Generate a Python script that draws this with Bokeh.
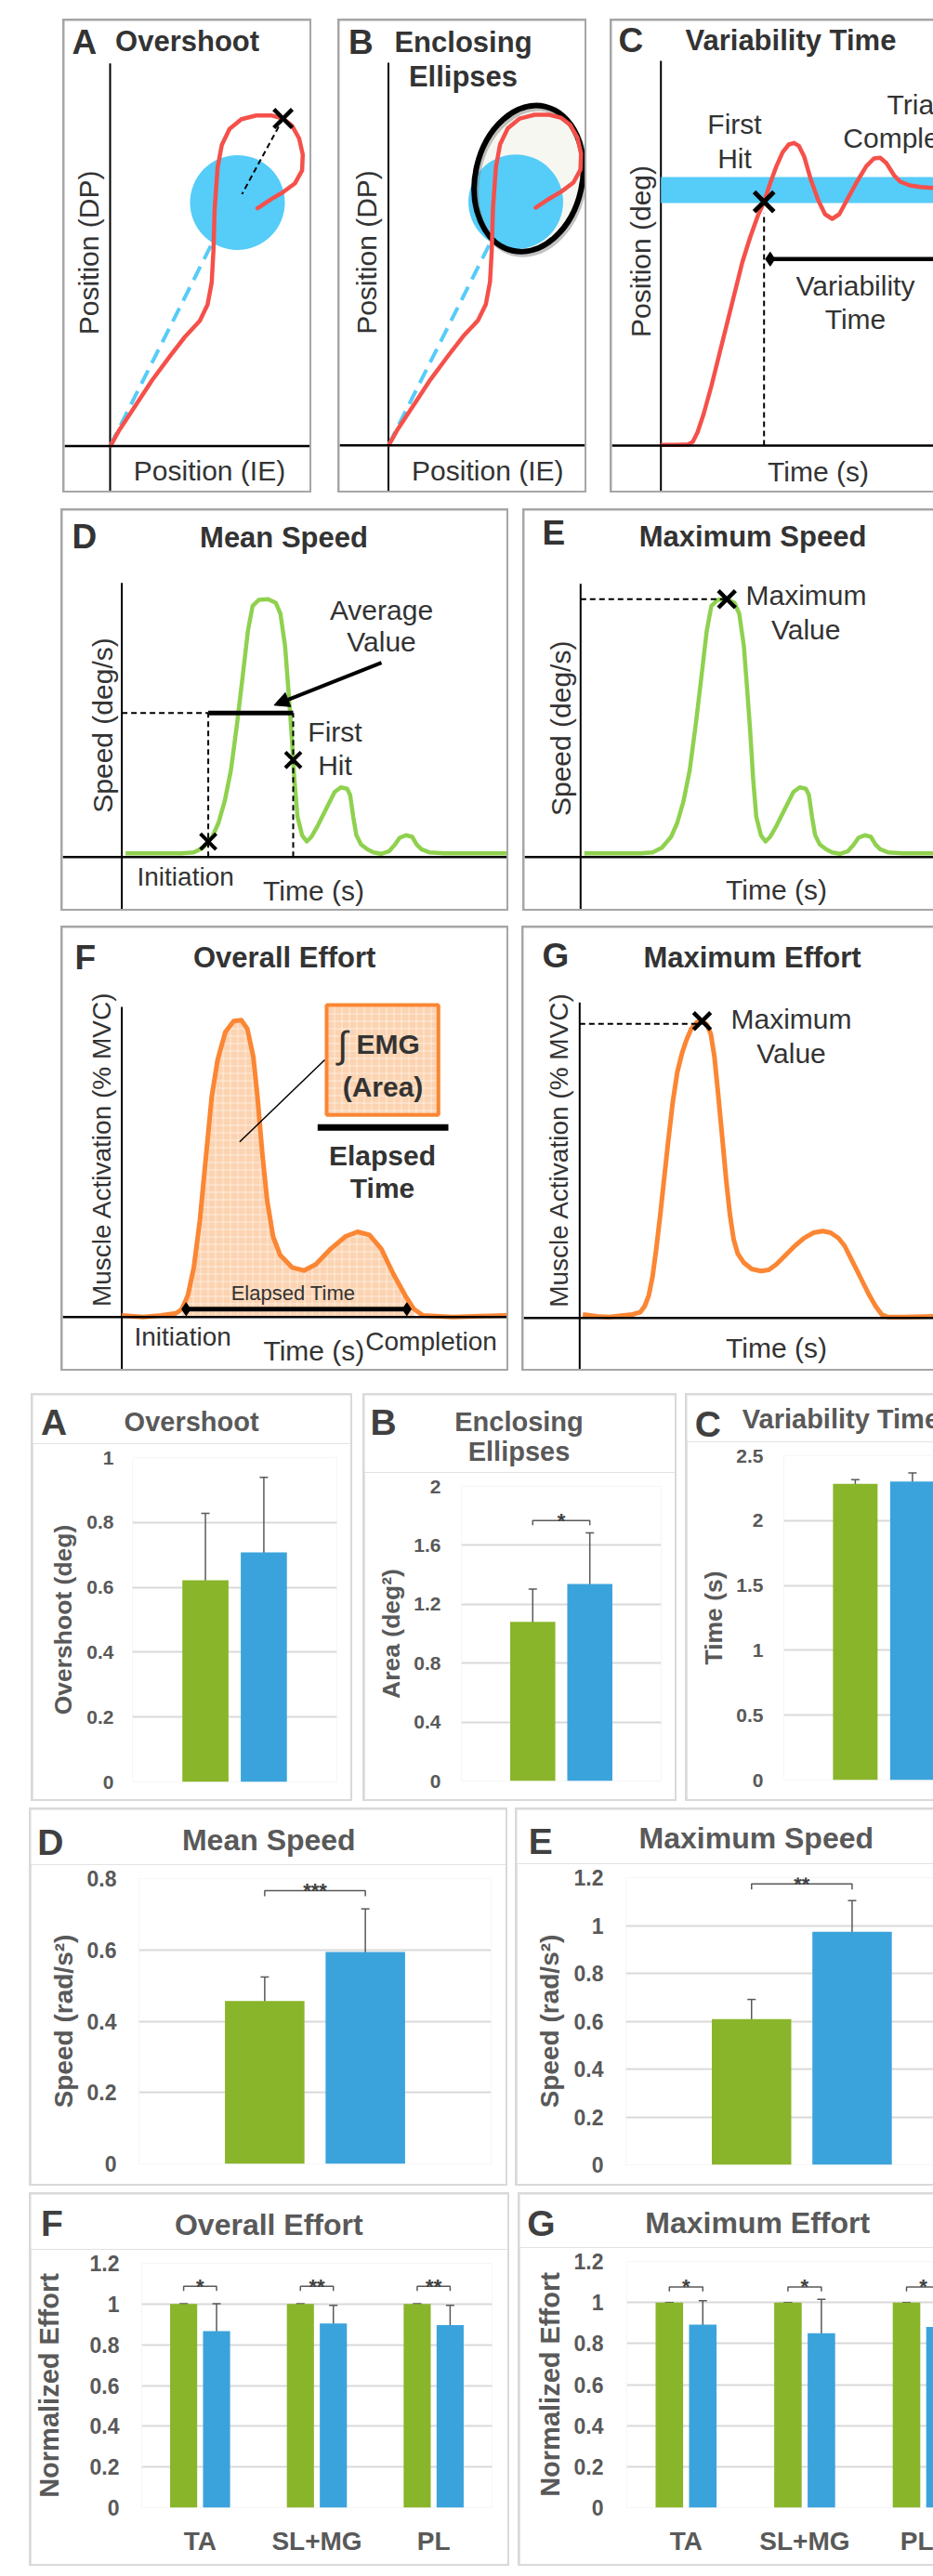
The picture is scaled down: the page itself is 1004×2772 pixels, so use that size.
import math
import numpy as np
from bokeh.plotting import figure
from bokeh.models import (Range1d, Span, Label, Whisker, TeeHead, ColumnDataSource,
                          FixedTicker, Arrow, NormalHead, Spacer)
from bokeh.layouts import column, row
from bokeh.embed import file_html
from bokeh.resources import INLINE

# ====================== DATA ======================
# --- bar charts (two conditions: green, blue) ---
conditions = ["green", "blue"]
overshoot = [0.622, 0.708]
overshoot_err = [0.206, 0.231]
ellipse_area = [1.08, 1.337]
ellipse_area_err = [0.223, 0.348]
variability_time = [2.283, 2.302]
variability_time_err = [0.033, 0.065]
mean_speed = [0.457, 0.594]
mean_speed_err = [0.067, 0.121]
max_speed = [0.609, 0.974]
max_speed_err = [0.082, 0.130]
muscles = ["TA", "SL+MG", "PL"]
overall_green = [1.0, 1.0, 1.0]
overall_green_err = [0.0, 0.0, 0.0]
overall_blue = [0.867, 0.905, 0.897]
overall_blue_err = [0.135, 0.089, 0.097]
maxeff_green = [1.0, 1.0, 1.0]
maxeff_green_err = [0.0, 0.0, 0.0]
maxeff_blue = [0.892, 0.850, 0.881]
maxeff_blue_err = [0.117, 0.166, 0.120]
sig_area = "*"
sig_mean_speed = "***"
sig_max_speed = "**"
sig_overall = ["*", "**", "**"]
sig_maxeff = ["*", "*", "*"]

ticks_overshoot = [0, 0.2, 0.4, 0.6, 0.8, 1]
labels_overshoot = ["0", "0.2", "0.4", "0.6", "0.8", "1"]
ticks_area = [0, 0.4, 0.8, 1.2, 1.6, 2]
labels_area = ["0", "0.4", "0.8", "1.2", "1.6", "2"]
ticks_time = [0, 0.5, 1, 1.5, 2, 2.5]
labels_time = ["0", "0.5", "1", "1.5", "2", "2.5"]
ticks_mspeed = [0, 0.2, 0.4, 0.6, 0.8]
labels_mspeed = ["0", "0.2", "0.4", "0.6", "0.8"]
ticks_12 = [0, 0.2, 0.4, 0.6, 0.8, 1, 1.2]
labels_12 = ["0", "0.2", "0.4", "0.6", "0.8", "1", "1.2"]

# --- schematic traces (drawing units, origin at the axes crossing, y up) ---
reach_ie = [0.5, 10.1, 26.1, 45.3, 64.5, 80.5, 96.5, 104.8, 109.3, 111.2, 112.5, 115.7, 120.2,
            128.5, 141.3, 157.3, 173.3, 186.1, 195.7, 203.4, 207.3, 206.6, 199.0, 186.1, 173.3, 158.6]
reach_dp = [0.3, 17.5, 41.6, 70.9, 96.7, 117.4, 134.6, 151.8, 175.9, 210.4, 255.1, 299.9, 324.0,
            341.2, 351.6, 355.7, 355.7, 352.3, 344.7, 330.9, 313.7, 296.5, 282.7, 273.1, 265.5, 255.8]
target_center = (137.0, 262.0)
target_diameter = 102.0
ideal_path_end = (109.3, 217.3)
enclosing_ellipse = dict(x=151.0, y=287.0, width=115.0, height=159.0, angle=-0.22)

pos_t = [0, 16, 29.3, 34.3, 39.3, 46, 54.3, 62.6, 71, 79.3, 87.6, 96, 104.3, 111, 117.6, 124.3,
         131, 137.6, 143.3, 148.6, 154.3, 161, 169.3, 176.6, 184.3, 192, 201, 211, 221, 229.3,
         236, 242.6, 251, 257.6, 267.6, 279.3, 293.3, 329.3]
pos_deg = [0.7, 0.7, 1.3, 4, 14, 34, 64, 97.3, 130.7, 164, 197.3, 224, 247.3, 262.3, 282.3, 300.7,
           315.7, 324, 325.7, 322.3, 310.7, 287.3, 264, 249, 244, 249, 265.7, 284, 300.7, 309,
           309.7, 304, 290.7, 284, 280, 278.3, 277.3, 277]
target_band = (261.0, 289.0)

speed_t = [4, 64, 77.4, 87.4, 97.4, 104, 110.7, 117.4, 124, 130.7, 135.7, 140.7, 147.4, 157.4,
           165.7, 170.7, 175.7, 179, 182.4, 185.7, 189, 194, 199, 204, 210.7, 220.7, 229, 235.7,
           242.4, 245.7, 249, 252.4, 257.4, 264, 270.7, 279, 287.4, 294, 299, 305.7, 312.4,
           317.4, 322.4, 330.7, 347.4, 380.7, 420]
speed_v = [4, 4, 5, 10, 21.7, 36.7, 60, 93.4, 143.4, 200, 243.4, 270, 276.7, 277.4, 273.4, 261.7,
           226.7, 183.4, 136.7, 83.4, 43.4, 23.4, 16.7, 21.7, 33.4, 53.4, 70, 75, 73.4, 66.7, 43.4,
           23.4, 13.4, 8.4, 5, 3.4, 6, 13.4, 20.7, 23.4, 21.7, 13.4, 8.4, 5, 4, 4, 4]
initiation_t = 93.0
first_hit_t = 184.4
mean_speed_level = 155.0

emg_f_t = [0, 23.1, 42.3, 58.3, 64.7, 71.1, 77.5, 83.9, 90.3, 96.7, 103.1, 111.4, 120.4, 128.7,
           135.1, 141.5, 146.0, 151.1, 156.2, 162.7, 170.3, 183.1, 195.9, 208.8, 224.8, 240.8,
           253.6, 266.4, 279.2, 292.0, 304.8, 314.4, 324.0, 356.0, 414.0]
emg_f = [1.7, 0, 1.7, 4.0, 8.4, 23.4, 53.4, 103.4, 170.0, 236.7, 276.7, 306.7, 318.4, 319.4,
         310.0, 280.0, 236.7, 176.7, 126.7, 86.7, 66.7, 53.4, 50.0, 56.7, 73.4, 86.7, 91.7, 88.4,
         73.4, 46.7, 23.4, 8.4, 1.7, 0, 1.7]
effort_start_t = 69.2
effort_end_t = 306.7

emg_g_t = [3.4, 18.4, 31.7, 45, 56.7, 65, 70, 74.4, 78.4, 82.4, 86.7, 91, 95, 100, 105, 110, 115,
           120, 126.7, 131.7, 136.7, 141, 145, 149, 153.4, 157.7, 161.7, 165.7, 170, 176.7, 185,
           195, 203.4, 211.7, 221.7, 231.7, 241.7, 251.7, 261.7, 270, 278.4, 285, 291.7, 298.4,
           305, 311.7, 318.4, 325, 331.7, 348.4, 381.7]
emg_g = [3.7, 1.7, 1, 2.4, 3.7, 6, 12.7, 24.4, 44.4, 74.4, 111, 151, 187.7, 231, 264.4, 284.4,
         299.4, 311, 318.4, 319.4, 316, 306, 281, 241, 194.4, 147.7, 111, 84.4, 69.4, 59.4, 52.7,
         50.4, 51.7, 57.7, 67.7, 77.7, 86, 91.7, 93.4, 91.7, 86, 77.7, 64.4, 51, 37.7, 24.4,
         12.7, 3.7, 1, 1, 1.7]

# ====================== STYLE ======================
FONT = "Liberation Sans"
TXT = "#333333"
SK_BLUE = "#56CCF8"
SK_RED = "#F5504A"
SK_GREEN = "#8FD14F"
SK_ORANGE = "#FB8633"
PEACH = "#FCD3B1"
GREEN = "#89B52A"
BLUE = "#3BA3DC"
GRID = "#D9D9D9"
BAR_TXT = "#595959"
LETTER = "#404040"
TOP_BORDER = "#A6A6A6"
BOT_BORDER = "#D9D9D9"


def lbl(p, x, y, text, size, bold=False, color=TXT, align="center", angle=0.0,
        baseline="middle"):
    p.add_layout(Label(x=x, y=y, text=text, text_font=FONT,
                       text_font_size=f"{size}px",
                       text_font_style="bold" if bold else "normal",
                       text_color=color, text_align=align, text_baseline=baseline,
                       angle=angle))


def blank(W, H, xr, yr):
    p = figure(width=W, height=H, x_range=xr, y_range=yr, output_backend="svg",
               toolbar_location=None, x_axis_location=None, y_axis_location=None,
               min_border=0, min_border_left=0, min_border_right=0, min_border_top=0,
               min_border_bottom=0, outline_line_color=None, frame_align=False,
               background_fill_color="white", border_fill_color="white")
    p.grid.visible = False
    return p


def sketch(L, R, T, B, ox, oy, vtop):
    p = blank(R - L, B - T, Range1d(L - ox, R - ox), Range1d(oy - B, oy - T))
    p.add_layout(Span(location=0, dimension="width", line_color="black", line_width=2.5))
    p.segment(x0=[0], y0=[oy - B], x1=[0], y1=[vtop], line_color="black", line_width=2)
    return p


def framed(fig, color, cut=False):
    fig.margin = (2, 0 if cut else 2, 2, 2)
    return column(fig, background=color)


def framed2(head, fig, color, cut=False):
    r = 0 if cut else 2
    head.margin = (2, r, 0, 2)
    fig.margin = (0, r, 2, 2)
    return column(head, fig, background=color)


HATCH = dict(hatch_pattern="+", hatch_color="white", hatch_alpha=0.55, hatch_scale=8,
             hatch_weight=1)

# ---------- Schematic A ----------
pA = sketch(69, 333, 22, 528, 118.0, 479.4, 411.6)
pA.line([0, ideal_path_end[0]], [0, ideal_path_end[1]], line_color=SK_BLUE, line_width=4,
        line_dash="16 9")
pA.ellipse(x=[target_center[0]], y=[target_center[1]], width=target_diameter,
           height=target_diameter, fill_color=SK_BLUE, line_color=None)
pA.line(reach_ie, reach_dp, line_color=SK_RED, line_width=4.5, line_join="round",
        line_cap="round")
dist = [math.hypot(x - target_center[0], y - target_center[1]) for x, y in zip(reach_ie, reach_dp)]
k_in = next(i for i, d in enumerate(dist) if d < target_diameter / 2)
k = k_in + int(np.argmax(dist[k_in:]))
ox_, oy_ = reach_ie[k], reach_dp[k]
pA.line([ox_, target_center[0] + 0.1 * (ox_ - target_center[0])],
        [oy_, target_center[1] + 0.1 * (oy_ - target_center[1])],
        line_color="black", line_width=2, line_dash="6 4")
pA.scatter([ox_], [oy_], marker="x", size=28, line_width=4.5, line_color="black")
lbl(pA, -41, 434.4, "A", 37, bold=True, align="left")
lbl(pA, 5.6, 435.4, "Overshoot", 31, bold=True, align="left")
lbl(pA, -23, 208, "Position (DP)", 30, angle=math.pi / 2)
lbl(pA, 107, -26.6, "Position (IE)", 30)

# ---------- Schematic B ----------
pB = sketch(365, 629, 22, 528, 417.5, 478.7, 411.7)
pB.line([0, ideal_path_end[0]], [0, ideal_path_end[1]], line_color=SK_BLUE, line_width=4,
        line_dash="16 9")
ell = enclosing_ellipse
pB.ellipse(x=[ell["x"]], y=[ell["y"]], width=ell["width"], height=ell["height"],
           angle=ell["angle"], fill_color="#F7F7F2", line_color=None)
pB.ellipse(x=[target_center[0]], y=[target_center[1]], width=target_diameter,
           height=target_diameter, fill_color=SK_BLUE, line_color=None)
pB.ellipse(x=[ell["x"] + 2], y=[ell["y"] - 3], width=ell["width"], height=ell["height"],
           angle=ell["angle"], fill_color=None, line_color="#777777",
           line_alpha=0.45, line_width=6)
pB.ellipse(x=[ell["x"]], y=[ell["y"]], width=ell["width"], height=ell["height"],
           angle=ell["angle"], fill_color=None, line_color="black", line_width=6)
pB.line(reach_ie, reach_dp, line_color=SK_RED, line_width=4.5, line_join="round",
        line_cap="round")
lbl(pB, -42.9, 433.7, "B", 37, bold=True, align="left")
lbl(pB, 80.5, 433.7, "Enclosing", 31, bold=True)
lbl(pB, 80.5, 397.1, "Ellipses", 31, bold=True)
lbl(pB, -23.5, 207.7, "Position (DP)", 30, angle=math.pi / 2)
lbl(pB, 106.8, -27.3, "Position (IE)", 30)

# ---------- Schematic C ----------
pC = sketch(658, 1004, 22, 528, 710.7, 479.0, 414.0)
pC.quad(left=[0], right=[400], bottom=[target_band[0]], top=[target_band[1]],
        fill_color=SK_BLUE, line_color=None)
pC.line(pos_t, pos_deg, line_color=SK_RED, line_width=4.5, line_join="round")
kh = next(i for i, v in enumerate(pos_deg) if v >= target_band[0])
hit_t, hit_v = pos_t[kh], pos_deg[kh]
pC.line([hit_t, hit_t], [0, hit_v - 12], line_color="black", line_width=2, line_dash="6 4")
pC.line([hit_t + 6.6, 400], [200.7, 200.7], line_color="black", line_width=4.5)
pC.scatter([hit_t + 6.6], [200.7], marker="diamond", size=15, fill_color="black",
           line_color="black")
pC.scatter([hit_t], [hit_v], marker="x", size=30, line_width=5, line_color="black")
lbl(pC, -45.7, 436, "C", 37, bold=True, align="left")
lbl(pC, 26.3, 435.7, "Variability Time", 31, bold=True, align="left")
lbl(pC, 79.3, 346, "First", 30)
lbl(pC, 79.3, 309, "Hit", 30)
lbl(pC, 272, 367, "Trial", 30)
lbl(pC, 272, 331, "Completion", 30)
lbl(pC, 209.3, 172, "Variability", 30)
lbl(pC, 209.3, 136, "Time", 30)
lbl(pC, 169.3, -27.7, "Time (s)", 30)
lbl(pC, -21.7, 209, "Position (deg)", 30, angle=math.pi / 2)

# ---------- Schematic D ----------
pD = sketch(67, 545, 549, 978, 130.6, 921.7, 295.0)
pD.line(speed_t, speed_v, line_color=SK_GREEN, line_width=4.5, line_join="round")
pD.line([0, initiation_t], [mean_speed_level] * 2, line_color="black", line_width=2,
        line_dash="6 4")
pD.line([initiation_t, initiation_t], [0, mean_speed_level], line_color="black", line_width=2,
        line_dash="6 4")
pD.line([first_hit_t, first_hit_t], [0, mean_speed_level], line_color="black", line_width=2,
        line_dash="6 4")
pD.line([initiation_t, first_hit_t], [mean_speed_level] * 2, line_color="black", line_width=5)
i_v = float(np.interp(initiation_t, speed_t[:12], speed_v[:12]))
f_v = float(np.interp(-first_hit_t, [-t for t in speed_t[13:22][::-1]], speed_v[13:22][::-1]))
pD.scatter([initiation_t, first_hit_t], [i_v, f_v], marker="x", size=24, line_width=4,
           line_color="black")
pD.add_layout(Arrow(end=NormalHead(size=16, fill_color="black", line_color="black"),
                    x_start=279.4, y_start=209, x_end=163.9, y_end=163.4, line_width=4,
                    line_color="black"))
lbl(pD, -53.6, 345, "D", 37, bold=True, align="left")
lbl(pD, 174.4, 343.7, "Mean Speed", 31, bold=True)
lbl(pD, 279.4, 265.7, "Average", 30)
lbl(pD, 279.4, 231.7, "Value", 30)
lbl(pD, 229.4, 135, "First", 30)
lbl(pD, 229.4, 98.7, "Hit", 30)
lbl(pD, 16.4, -21.3, "Initiation", 28, align="left")
lbl(pD, 206.4, -36.3, "Time (s)", 30)
lbl(pD, -20.6, 141.7, "Speed (deg/s)", 30, angle=math.pi / 2)

# ---------- Schematic E ----------
pE = sketch(564, 1004, 549, 978, 624.3, 921.7, 294.0)
pE.line(speed_t, speed_v, line_color=SK_GREEN, line_width=4.5, line_join="round")
km = int(np.argmax(speed_v))
pE.line([0, speed_t[km]], [speed_v[km]] * 2, line_color="black", line_width=2, line_dash="6 4")
pE.scatter([speed_t[km]], [speed_v[km]], marker="x", size=26, line_width=4.5, line_color="black")
lbl(pE, -41.3, 348.7, "E", 37, bold=True, align="left")
lbl(pE, 185.2, 344.7, "Maximum Speed", 31, bold=True)
lbl(pE, 242.7, 281.7, "Maximum", 30)
lbl(pE, 242.4, 245, "Value", 30)
lbl(pE, 210.7, -35, "Time (s)", 30)
lbl(pE, -21, 138.4, "Speed (deg/s)", 30, angle=math.pi / 2)

# ---------- Schematic F ----------
pF = sketch(67, 545, 998, 1473, 130.6, 1416.7, 333.7)
sel = [i for i, t in enumerate(emg_f_t) if effort_start_t - 5 <= t <= effort_end_t + 8]
pF.varea(x=[emg_f_t[i] for i in sel], y1=[0] * len(sel), y2=[emg_f[i] for i in sel],
         fill_color=PEACH, **HATCH)
pF.line(emg_f_t, emg_f, line_color=SK_ORANGE, line_width=5, line_join="round")
pF.line([effort_start_t, effort_end_t], [8.4, 8.4], line_color="black", line_width=5)
pF.scatter([effort_start_t, effort_end_t], [8.4, 8.4], marker="diamond", size=14,
           fill_color="black", line_color="black")
pF.quad(left=[220.4], right=[340.7], bottom=[217.4], top=[335.7], fill_color=PEACH,
        line_color=SK_ORANGE, line_width=4, **HATCH)
pF.line([218.4, 126.8], [276.7, 188.4], line_color="black", line_width=1.5)
pF.line([210.7, 351.4], [204, 204], line_color="black", line_width=7)
lbl(pF, -50.6, 386.7, "F", 37, bold=True, align="left")
lbl(pF, 175.1, 386.7, "Overall Effort", 31, bold=True)
lbl(pF, 237.4, 293.4, "\u222b", 40)
lbl(pF, 252.4, 293.4, "EMG", 30, bold=True, align="left")
lbl(pF, 280.9, 247.4, "(Area)", 30, bold=True)
lbl(pF, 280.4, 173.4, "Elapsed", 30, bold=True)
lbl(pF, 280.4, 138.4, "Time", 30, bold=True)
lbl(pF, 184.4, 26, "Elapsed Time", 22)
lbl(pF, 13.4, -21.6, "Initiation", 28, align="left")
lbl(pF, 206.8, -36.6, "Time (s)", 30)
lbl(pF, 333, -26.6, "Completion", 28)
lbl(pF, -21.8, 180.7, "Muscle Activation (% MVC)", 28, angle=math.pi / 2)

# ---------- Schematic G ----------
pG = sketch(563, 1004, 998, 1473, 623.3, 1417.7, 339.4)
pG.line(emg_g_t, emg_g, line_color=SK_ORANGE, line_width=5, line_join="round")
kg = int(np.argmax(emg_g))
pG.line([0, emg_g_t[kg]], [emg_g[kg] - 3] * 2, line_color="black", line_width=2, line_dash="6 4")
pG.scatter([emg_g_t[kg]], [emg_g[kg]], marker="x", size=26, line_width=4.5, line_color="black")
lbl(pG, -40.3, 389.4, "G", 37, bold=True, align="left")
lbl(pG, 185.7, 387.7, "Maximum Effort", 31, bold=True)
lbl(pG, 227.7, 321.7, "Maximum", 30)
lbl(pG, 227.7, 284.4, "Value", 30)
lbl(pG, 211.7, -32.3, "Time (s)", 30)
lbl(pG, -22.3, 181, "Muscle Activation (% MVC)", 28, angle=math.pi / 2)


# ====================== BAR CHARTS ======================
HEAD_GAP = 15  # room kept above each chart frame for the top tick label


def bar_chart(W, H, borders, x_end, x_start, y_end, ticks, tick_labels, tick_px, tick_sd,
              ylabel, ylab_px, ylab_sd, xcats=None):
    bl, br, bt, bb = borders
    hh = bt - HEAD_GAP
    head = blank(W, hh, Range1d(0, W), Range1d(0, hh))
    p = figure(width=W, height=H - hh, x_range=Range1d(x_start, x_end),
               y_range=Range1d(0, y_end),
               output_backend="svg", toolbar_location=None, frame_align=False,
               x_axis_location=("below" if xcats else None),
               min_border_left=bl, min_border_right=br, min_border_top=HEAD_GAP,
               min_border_bottom=bb, outline_line_color=None, background_fill_color="white",
               border_fill_color="white")
    ax = p.yaxis[0]
    ax.ticker = FixedTicker(ticks=ticks)
    ax.major_label_overrides = {t: s for t, s in zip(ticks, tick_labels)}
    ax.axis_line_color = None
    ax.major_tick_line_color = None
    ax.minor_tick_line_color = None
    ax.major_tick_in = 0
    ax.major_tick_out = 0
    ax.major_label_standoff = int(round(tick_sd))
    ax.major_label_text_font = FONT
    ax.major_label_text_font_style = "bold"
    ax.major_label_text_font_size = f"{tick_px}px"
    ax.major_label_text_color = BAR_TXT
    ax.axis_label = ylabel
    ax.axis_label_text_font = FONT
    ax.axis_label_text_font_style = "bold"
    ax.axis_label_text_font_size = f"{ylab_px}px"
    ax.axis_label_text_color = BAR_TXT
    ax.axis_label_standoff = int(round(ylab_sd))
    p.ygrid.grid_line_color = GRID
    p.ygrid.grid_line_width = 2
    p.xgrid.visible = False
    if xcats:
        xa = p.xaxis[0]
        centers = [i + 0.5 for i in range(len(xcats))]
        xa.ticker = FixedTicker(ticks=centers)
        xa.major_label_overrides = {c: s for c, s in zip(centers, xcats)}
        xa.axis_line_color = None
        xa.major_tick_line_color = None
        xa.minor_tick_line_color = None
        xa.major_tick_in = 0
        xa.major_tick_out = 0
        xa.major_label_standoff = 20
        xa.major_label_text_font = FONT
        xa.major_label_text_font_style = "bold"
        xa.major_label_text_font_size = "28px"
        xa.major_label_text_color = BAR_TXT
    return head, p


def add_whiskers(p, src):
    p.add_layout(Whisker(source=src, base="x", upper="upper", lower="lower",
                         line_color=BAR_TXT, line_width=1.5,
                         upper_head=TeeHead(size=9, line_color=BAR_TXT, line_width=1.5),
                         lower_head=TeeHead(size=9, line_color=BAR_TXT, line_width=1.5)))


def pair_bars(p, means, errs, width=0.79):
    xs = [i + 0.5 for i in range(len(means))]
    p.vbar(x=xs, top=means, width=width, fill_color=[GREEN, BLUE], line_color=None)
    src = ColumnDataSource(dict(x=xs, upper=[m + e for m, e in zip(means, errs)],
                                lower=[m - e for m, e in zip(means, errs)]))
    add_whiskers(p, src)
    return xs


def bracket(p, x1, x2, level, leg, star):
    p.line([x1, x1, x2, x2], [level - leg, level, level, level - leg], line_color=BAR_TXT,
           line_width=1.5)
    lbl(p, (x1 + x2) / 2, level, star, 22, bold=True, color=LETTER, baseline="alphabetic")


def title(h, x, y, text, size, align="center"):
    lbl(h, x, y, text, size, bold=True, color=BAR_TXT, align=align)


def letter(h, x, y, text):
    lbl(h, x, y, text, 39, bold=True, color=LETTER, align="left")


# A: Overshoot
hA, bA = bar_chart(342, 435, (107, 15, 67, 19), 2.75, -0.75, 1, ticks_overshoot,
                   labels_overshoot, 21, 20, "Overshoot (deg)", 26.5, 7)
pair_bars(bA, overshoot, overshoot_err)
letter(hA, 8.5, 22.7, "A")
title(hA, 170.6, 23.7, "Overshoot", 29)

# B: Enclosing ellipses
hB, bB = bar_chart(334, 435, (104, 15, 98, 20), 2.75, -0.75, 2, ticks_area, labels_area,
                   21, 22, "Area (deg\u00b2)", 26.5, 6)
xsB = pair_bars(bB, ellipse_area, ellipse_area_err)
bracket(bB, xsB[0], xsB[1], 1.768, 2 * 5 / 317, sig_area)
letter(hB, 6, 54, "B")
title(hB, 166, 54.7, "Enclosing", 29)
title(hB, 166, 22.3, "Ellipses", 29)

# C: Variability time (cut at the right page edge)
hC, bC = bar_chart(265, 435, (104, 0, 65, 21), -0.75 + 161 / 61.5, -0.75, 2.5, ticks_time,
                   labels_time, 21, 22, "Time (s)", 26.5, 6)
pair_bars(bC, variability_time, variability_time_err, width=0.78)
letter(hC, 8.3, 19.3, "C")
title(hC, 59.3, 24.3, "Variability Time", 29, align="left")

# D: Mean speed
hD, bD = bar_chart(511, 403, (116, 16, 74, 22), 2.75, -0.75, 0.8, ticks_mspeed, labels_mspeed,
                   23, 24, "Speed (rad/s\u00b2)", 28, 7)
xsD = pair_bars(bD, mean_speed, mean_speed_err)
bracket(bD, xsD[0], xsD[1], 0.766, 0.8 * 6 / 307, sig_mean_speed)
letter(hD, 6.7, 24.3, "D")
title(hD, 255.8, 26.7, "Mean Speed", 32)

# E: Maximum speed (cut)
hE, bE = bar_chart(448, 403, (117, 0, 73, 21), -0.75 + 331 / 108.2, -0.75, 1.2, ticks_12,
                   labels_12, 23, 24, "Speed (rad/s\u00b2)", 28, 8)
xsE = pair_bars(bE, max_speed, max_speed_err)
bracket(bE, xsE[0], xsE[1], 1.174, 1.2 * 6 / 309, sig_max_speed)
letter(hE, 12.3, 24.3, "E")
title(hE, 257.3, 27.7, "Maximum Speed", 32)


def grouped(p, green, green_err, blue, blue_err, sigs, level, leg):
    gx = [i + 0.5 - 0.141 for i in range(len(green))]
    bx = [i + 0.5 + 0.141 for i in range(len(blue))]
    p.vbar(x=gx, top=green, width=0.232, fill_color=GREEN, line_color=None)
    p.vbar(x=bx, top=blue, width=0.232, fill_color=BLUE, line_color=None)
    add_whiskers(p, ColumnDataSource(dict(x=gx, upper=[m + e for m, e in zip(green, green_err)],
                                          lower=[m - e for m, e in zip(green, green_err)])))
    add_whiskers(p, ColumnDataSource(dict(x=bx, upper=[m + e for m, e in zip(blue, blue_err)],
                                          lower=[m - e for m, e in zip(blue, blue_err)])))
    for a, b, s in zip(gx, bx, sigs):
        bracket(p, a, b, level, leg, s)


# F: Overall effort
hF, bF = bar_chart(513, 398, (116, 17, 74, 61), 3, 0, 1.2, ticks_12, labels_12, 23, 24,
                   "Normalized Effort", 29, 25, xcats=muscles)
grouped(bF, overall_green, overall_green_err, overall_blue, overall_blue_err, sig_overall,
        1.087, 1.2 * 5 / 263)
letter(hF, 10.5, 28.3, "F")
title(hF, 255.8, 26.7, "Overall Effort", 32)

# G: Maximum effort (cut)
hG, bG = bar_chart(445, 398, (115, 0, 72, 61), 330 / 127.6, 0, 1.2, ticks_12, labels_12, 23, 25,
                   "Normalized Effort", 29, 7, xcats=muscles)
grouped(bG, maxeff_green, maxeff_green_err, maxeff_blue, maxeff_blue_err, sig_maxeff,
        1.076, 1.2 * 5 / 266)
letter(hG, 7.7, 26.3, "G")
title(hG, 255.7, 27, "Maximum Effort", 32)

# ====================== LAYOUT ======================
row1 = row(Spacer(width=67), framed(pA, TOP_BORDER), Spacer(width=28), framed(pB, TOP_BORDER),
           Spacer(width=25), framed(pC, TOP_BORDER, cut=True))
row2 = row(Spacer(width=65), framed(pD, TOP_BORDER), Spacer(width=15),
           framed(pE, TOP_BORDER, cut=True))
row3 = row(Spacer(width=65), framed(pF, TOP_BORDER), Spacer(width=14),
           framed(pG, TOP_BORDER, cut=True))
row4 = row(Spacer(width=33), framed2(hA, bA, BOT_BORDER), Spacer(width=11),
           framed2(hB, bB, BOT_BORDER), Spacer(width=9), framed2(hC, bC, BOT_BORDER, cut=True))
row5 = row(Spacer(width=31), framed2(hD, bD, BOT_BORDER), Spacer(width=8),
           framed2(hE, bE, BOT_BORDER, cut=True))
row6 = row(Spacer(width=31), framed2(hF, bF, BOT_BORDER), Spacer(width=9),
           framed2(hG, bG, BOT_BORDER, cut=True))

page = column(Spacer(height=20), row1, Spacer(height=17), row2, Spacer(height=16), row3,
              Spacer(height=24), row4, Spacer(height=7), row5, Spacer(height=7), row6,
              Spacer(height=11))

open("out.html", "w").write(file_html(page, INLINE))
